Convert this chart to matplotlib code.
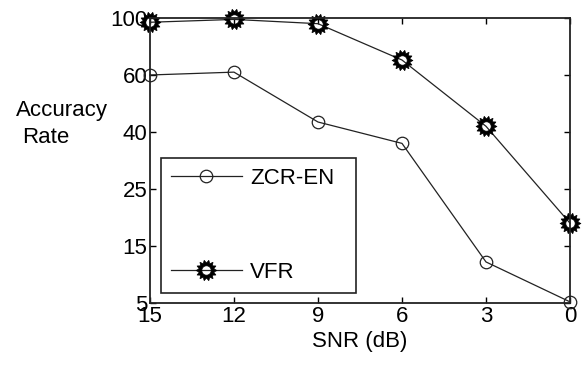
import numpy as np
import matplotlib.pyplot as plt
from matplotlib.path import Path

plt.rcParams['font.family'] = ['Liberation Sans', 'DejaVu Sans']

snr = [15, 12, 9, 6, 3, 0]
zcr_en = [60, 62, 43.5, 37, 12.2, 5.2]
vfr = [97, 99, 96, 70.5, 42, 19]
ytick_vals = [5, 15, 25, 40, 60, 100]

# y axis: the ticks are evenly spaced, values between them are linear
ypos = np.arange(len(ytick_vals))
def fwd(v):
    return np.interp(v, ytick_vals, ypos)
def inv(p):
    return np.interp(p, ypos, ytick_vals)

# gear-like marker: spiky ring with a hole
n = 14
ang = np.linspace(0, 2 * np.pi, 2 * n, endpoint=False)
rad = np.where(np.arange(2 * n) % 2 == 0, 1.0, 0.72)
outer = np.column_stack([rad * np.cos(ang), rad * np.sin(ang)])
t = np.linspace(0, 2 * np.pi, 30, endpoint=False)[::-1]
inner = np.column_stack([0.45 * np.cos(t), 0.45 * np.sin(t)])
verts = np.vstack([outer, outer[:1], inner, inner[:1]])
codes = ([Path.MOVETO] + [Path.LINETO] * (len(outer) - 1) + [Path.CLOSEPOLY]
         + [Path.MOVETO] + [Path.LINETO] * (len(inner) - 1) + [Path.CLOSEPOLY])
gear = Path(verts, codes)

fs = 16
fig = plt.figure(figsize=(5.82, 3.67), dpi=100)
ax = fig.add_axes([0.2577, 0.1744, 0.7217, 0.7766])
ax.set_yscale('function', functions=(fwd, inv))

ax.plot(snr, zcr_en, color='#222222', lw=0.9, marker='o', ms=9,
        mfc='none', mec='#222222', mew=0.9, label='ZCR-EN', clip_on=False)
ax.plot(snr, vfr, color='#222222', lw=0.9, marker=gear, ms=15,
        mfc='black', mec='black', mew=0.5, label='VFR', clip_on=False)

ax.set_xlim(15, 0)
ax.set_ylim(5, 100)
ax.set_xticks(snr)
ax.set_xticklabels([str(s) for s in snr])
ax.set_yticks(ytick_vals)
ax.set_yticklabels([str(v) for v in ytick_vals])
ax.minorticks_off()
ax.tick_params(direction='in', length=4, width=1, labelsize=fs,
               top=True, right=True, pad=2)
for s in ax.spines.values():
    s.set_linewidth(1.3)
    s.set_color('#222222')

ax.set_xlabel('SNR (dB)', fontsize=fs, labelpad=3)
fig.text(0.106, 0.70, 'Accuracy', fontsize=fs, ha='center', va='center')
fig.text(0.078, 0.625, 'Rate', fontsize=fs, ha='center', va='center')

leg = ax.legend(loc='lower left', bbox_to_anchor=(0.026, 0.035, 0.464, 0.47),
                mode='expand', borderaxespad=0, fontsize=fs, fancybox=False,
                edgecolor='#222222', framealpha=1, handlelength=3.2,
                handletextpad=0.35, labelspacing=3.3, borderpad=0.45)
leg.get_frame().set_linewidth(1.2)

fig.savefig('out.png', dpi=100)
